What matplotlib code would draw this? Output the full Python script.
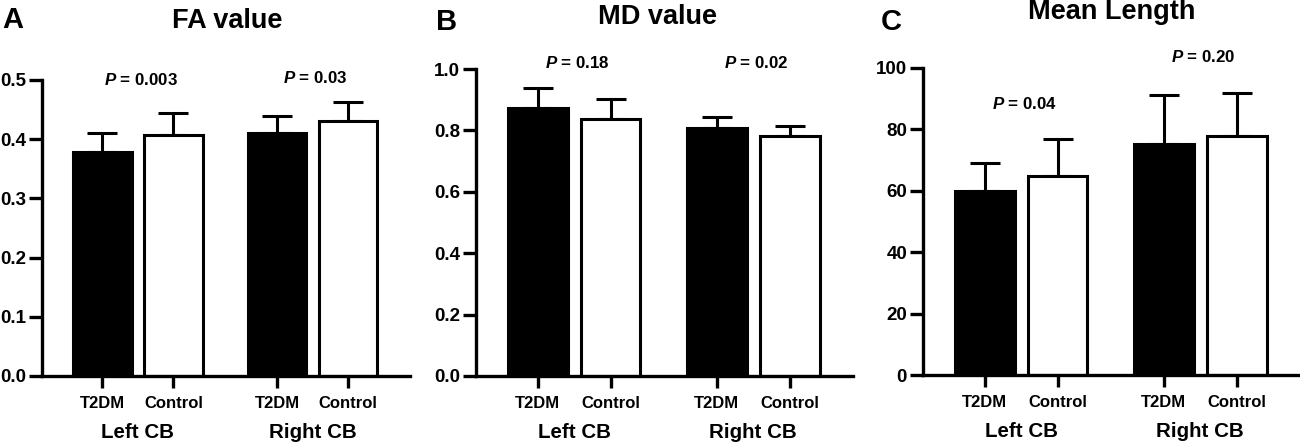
import matplotlib
matplotlib.use("Agg")
import matplotlib.pyplot as plt
import numpy as np

plt.rcParams['font.family'] = ['Liberation Sans', 'DejaVu Sans']
plt.rcParams['font.weight'] = 'bold'
plt.rcParams['mathtext.fontset'] = 'custom'
plt.rcParams['mathtext.it'] = 'Liberation Sans:italic:bold'
plt.rcParams['mathtext.bf'] = 'Liberation Sans:bold'
plt.rcParams['mathtext.rm'] = 'Liberation Sans:bold'

groups = ['T2DM', 'Control', 'T2DM', 'Control']
sides = ['Left CB', 'Right CB']
colors = ['black', 'white', 'black', 'white']

fa_mean = [0.379, 0.407, 0.411, 0.431]
fa_sd = [0.032, 0.037, 0.028, 0.032]
md_mean = [0.874, 0.836, 0.808, 0.782]
md_sd = [0.063, 0.065, 0.037, 0.032]
len_mean = [59.9, 64.8, 75.2, 77.8]
len_sd = [9.3, 12.1, 15.9, 14.2]

fa_p = ['0.003', '0.03']
md_p = ['0.18', '0.02']
len_p = ['0.04', '0.20']

W, H = 1300, 446
fig = plt.figure(figsize=(W / 100, H / 100), dpi=100)

x = np.array([0, 1, 2.46, 3.46])


def make_panel(box, means, sds, ymax, yticks, ticklabels, title, letter, title_xy, letter_xy, pvals, p_y):
    left, right, top, bottom = box
    ax = fig.add_axes([left / W, 1 - bottom / H, (right - left) / W, (bottom - top) / H])
    ax.bar(x, means, width=0.82, color=colors, edgecolor='black', linewidth=2.2, zorder=2)
    ax.errorbar(x, means, yerr=[np.zeros(4), sds], fmt='none', ecolor='black',
                elinewidth=2.2, capsize=11, capthick=2.2, zorder=1, clip_on=False)
    ax.set_xlim(-0.85, 4.33)
    ax.set_ylim(0, ymax)
    ax.set_yticks(yticks)
    ax.set_yticklabels(ticklabels, fontsize=13.5, fontweight='bold')
    ax.set_xticks(x)
    ax.set_xticklabels(groups, fontsize=12, fontweight='bold')
    for s in ['top', 'right']:
        ax.spines[s].set_visible(False)
    for s in ['left', 'bottom']:
        ax.spines[s].set_linewidth(2.4)
    ax.tick_params(axis='y', length=9.5, width=2.4, pad=2)
    ax.tick_params(axis='x', length=8.6, width=2.4, pad=6)
    for i, side in enumerate(sides):
        mid = (x[2 * i] + x[2 * i + 1]) / 2
        ax.annotate(side, xy=(mid, 0), xycoords=('data', 'axes fraction'),
                    xytext=(0, -41), textcoords='offset points',
                    ha='center', va='center', fontsize=14.8, fontweight='bold')
        ax.text(mid + 0.04, p_y[i], r'$\it{P}$ = ' + pvals[i], ha='center', va='center',
                fontsize=12.2, fontweight='bold')
    fig.text(title_xy[0] / W, 1 - title_xy[1] / H, title, ha='center', va='center',
             fontsize=19.5, fontweight='bold')
    fig.text(letter_xy[0] / W, 1 - letter_xy[1] / H, letter, ha='left', va='center',
             fontsize=21, fontweight='bold')
    return ax


make_panel((42, 410, 80, 376), fa_mean, fa_sd, 0.5, [0, 0.1, 0.2, 0.3, 0.4, 0.5],
           ['0.0', '0.1', '0.2', '0.3', '0.4', '0.5'], 'FA value', 'A',
           (227, 21), (2, 20), fa_p, [0.5, 0.503])
make_panel((476, 853, 69, 376), md_mean, md_sd, 1.0, [0, 0.2, 0.4, 0.6, 0.8, 1.0],
           ['0.0', '0.2', '0.4', '0.6', '0.8', '1.0'], 'MD value', 'B',
           (658, 17), (436, 22), md_p, [1.02, 1.02])
make_panel((923, 1300, 68, 375), len_mean, len_sd, 100, [0, 20, 40, 60, 80, 100],
           ['0', '20', '40', '60', '80', '100'], 'Mean Length', 'C',
           (1112, 12), (881, 22), len_p, [88.3, 103.6])

fig.savefig('out.png', dpi=100)
